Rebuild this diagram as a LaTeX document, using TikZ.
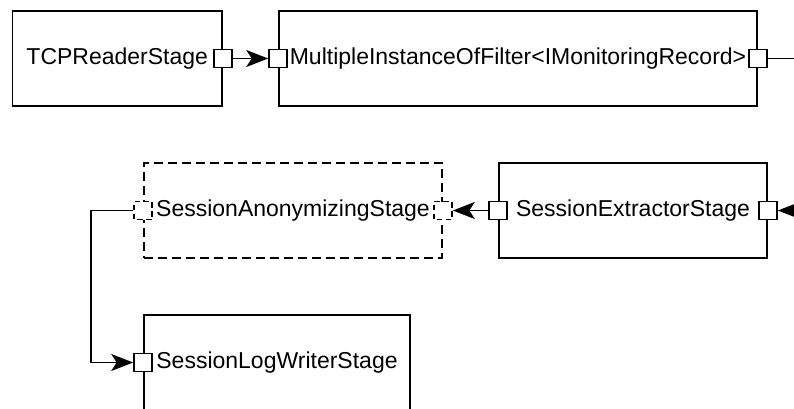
\documentclass[tikz,border=0pt]{standalone}
\usepackage{fontspec}
\setmainfont{Liberation Sans}
\usetikzlibrary{arrows.meta}
\begin{document}
\begin{tikzpicture}[x=1pt,y=-1pt,
  stage/.style={draw, line width=1.8pt, minimum height=95pt, inner sep=0pt,
    font=\fontsize{23}{26}\selectfont},
  optional/.style={dash pattern=on 9pt off 5pt},
  port/.style={draw, fill=white, line width=1.8pt, minimum size=18pt, inner sep=0pt},
  optport/.style={port, dash pattern=on 5.5pt off 3.5pt, dash phase=-3pt},
  link/.style={line width=1.4pt},
  flow/.style={link, -{Stealth[length=22pt, width=17pt, inset=5.5pt]}}]
\useasboundingbox (0,0) rectangle (794,408);

% stages
\node[stage, minimum width=209.5pt] (tcp) at (117.25,58.5) {TCPReaderStage};
\node[stage, minimum width=478pt] (filter) at (518,58.5) {MultipleInstanceOfFilter<IMonitoringRecord>};
\node[stage, optional, minimum width=298pt] (anon) at (293,210.5) {SessionAnonymizingStage};
\node[stage, minimum width=268pt] (extract) at (633,210.5) {SessionExtractorStage};
\node[stage, minimum width=266pt] (logw) at (277,362.5) {SessionLogWriterStage};

% ports
\node[port] (tcpR) at (tcp.east) {};
\node[port] (filterL) at (filter.west) {};
\node[port] (filterR) at (filter.east) {};
\node[optport] (anonL) at (anon.west) {};
\node[optport] (anonR) at (anon.east) {};
\node[port] (extractL) at (extract.west) {};
\node[port] (extractR) at (extract.east) {};
\node[port] (logwL) at (logw.west) {};

% connectors
\coordinate (exitA) at (794,58.5);
\coordinate (entryB) at (794,210.5);
\coordinate (bend) at (91,210.5);
\draw[flow] (tcpR) -- (filterL);
\draw[link] (filterR) -- (exitA);
\draw[flow] (entryB) -- (extractR);
\draw[flow] (extractL) -- (anonR);
\draw[flow] (anonL.west) -- (bend) |- (logwL.west);
\end{tikzpicture}
\end{document}
